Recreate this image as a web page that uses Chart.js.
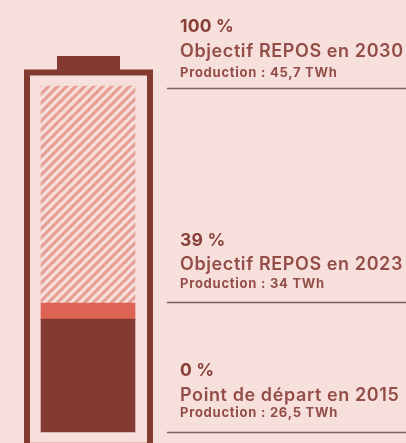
<!DOCTYPE html>
<html lang="fr"><head><meta charset="utf-8">
<style>html,body{margin:0;padding:0;background:#f7dfdc;overflow:hidden}
#w{position:relative;width:406px;height:443px}canvas{display:block;filter:blur(0.5px)}</style>
<script src="https://cdn.jsdelivr.net/npm/chart.js@4"></script></head>
<body><div id="w"><canvas id="c" width="406" height="443"></canvas></div>
<script>
const categories = ["Batterie"];
const baseSegment = [32.8];
const targetSegment = [4.7];
const remainingSegment = [63.1];
const markerLevels = [100, 37.8, 0];
const percentLabels = ["100 %", "39 %", "0 %"];
const objectiveLabels = ["Objectif REPOS en 2030", "Objectif REPOS en 2023", "Point de départ en 2015"];
const productionLabels = ["Production : 45,7 TWh", "Production : 34 TWh", "Production : 26,5 TWh"];

const BG = "#f7dfdc", DARK = "#833b31", RED = "#dd6455", STRIPE = "#e6a096";
function hatch(){
  const s = 9, p = document.createElement("canvas"); p.width = s; p.height = s;
  const g = p.getContext("2d");
  g.fillStyle = BG; g.fillRect(0,0,s,s);
  g.strokeStyle = STRIPE; g.lineWidth = 3.2;
  [[0,s,s,0],[-2,2,2,-2],[s-2,s+2,s+2,s-2]].forEach(l=>{g.beginPath();g.moveTo(l[0],l[1]);g.lineTo(l[2],l[3]);g.stroke();});
  return document.createElement("canvas").getContext("2d").createPattern(p,"repeat");
}
const decor = {
  id:"decor",
  afterDatasetsDraw(ch){
    const c = ch.ctx, y = ch.scales.y;
    c.save();
    c.fillStyle = DARK;
    c.fillRect(57,56,63,15);
    c.strokeStyle = DARK; c.lineWidth = 6;
    c.beginPath(); c.moveTo(27,450); c.lineTo(27,72.5); c.lineTo(150,72.5); c.lineTo(150,450); c.stroke();
    c.strokeStyle = "#e9bdb6"; c.lineWidth = 1;
    c.beginPath(); c.moveTo(30,442.5); c.lineTo(147,442.5); c.stroke();
    const offs = [[-57,-32,-12],[-57,-33,-15],[-57,-32,-15.5]];
    markerLevels.forEach((v,i)=>{
      const ry = Math.round(y.getPixelForValue(v))+0.5;
      c.strokeStyle = "#756361"; c.lineWidth = 1.4;
      c.beginPath(); c.moveTo(167,ry); c.lineTo(406,ry); c.stroke();
      c.textBaseline = "alphabetic"; c.textAlign = "left";
      c.fillStyle = "#873f38"; c.font = "700 17.5px Inter"; c.letterSpacing = "0.2px";
      c.fillText(percentLabels[i],180,ry+offs[i][0]);
      c.fillStyle = "#934d47"; c.font = "600 18px Inter"; c.letterSpacing = "0.6px";
      c.fillText(objectiveLabels[i],180,ry+offs[i][1]);
      c.fillStyle = "#934d47"; c.font = "700 13px Inter"; c.letterSpacing = "0.75px";
      c.fillText(productionLabels[i],180,ry+offs[i][2]);
    });
    c.restore();
  }
};
new Chart(document.getElementById("c"),{
  type:"bar",
  data:{labels:categories,datasets:[
    {label:"Point de départ",data:baseSegment,backgroundColor:DARK},
    {label:"Objectif 2023",data:targetSegment,backgroundColor:RED},
    {label:"Objectif 2030",data:remainingSegment,backgroundColor:hatch()}
  ]},
  options:{
    responsive:false,animation:false,
    layout:{padding:{left:0,right:230,top:0,bottom:0}},
    datasets:{bar:{barThickness:94}},
    plugins:{legend:{display:false},tooltip:{enabled:false},title:{display:false}},
    scales:{
      x:{display:false,stacked:true},
      y:{display:false,stacked:true,min:-3.2,max:125.6}
    }
  },
  plugins:[decor]
});
</script></body></html>
